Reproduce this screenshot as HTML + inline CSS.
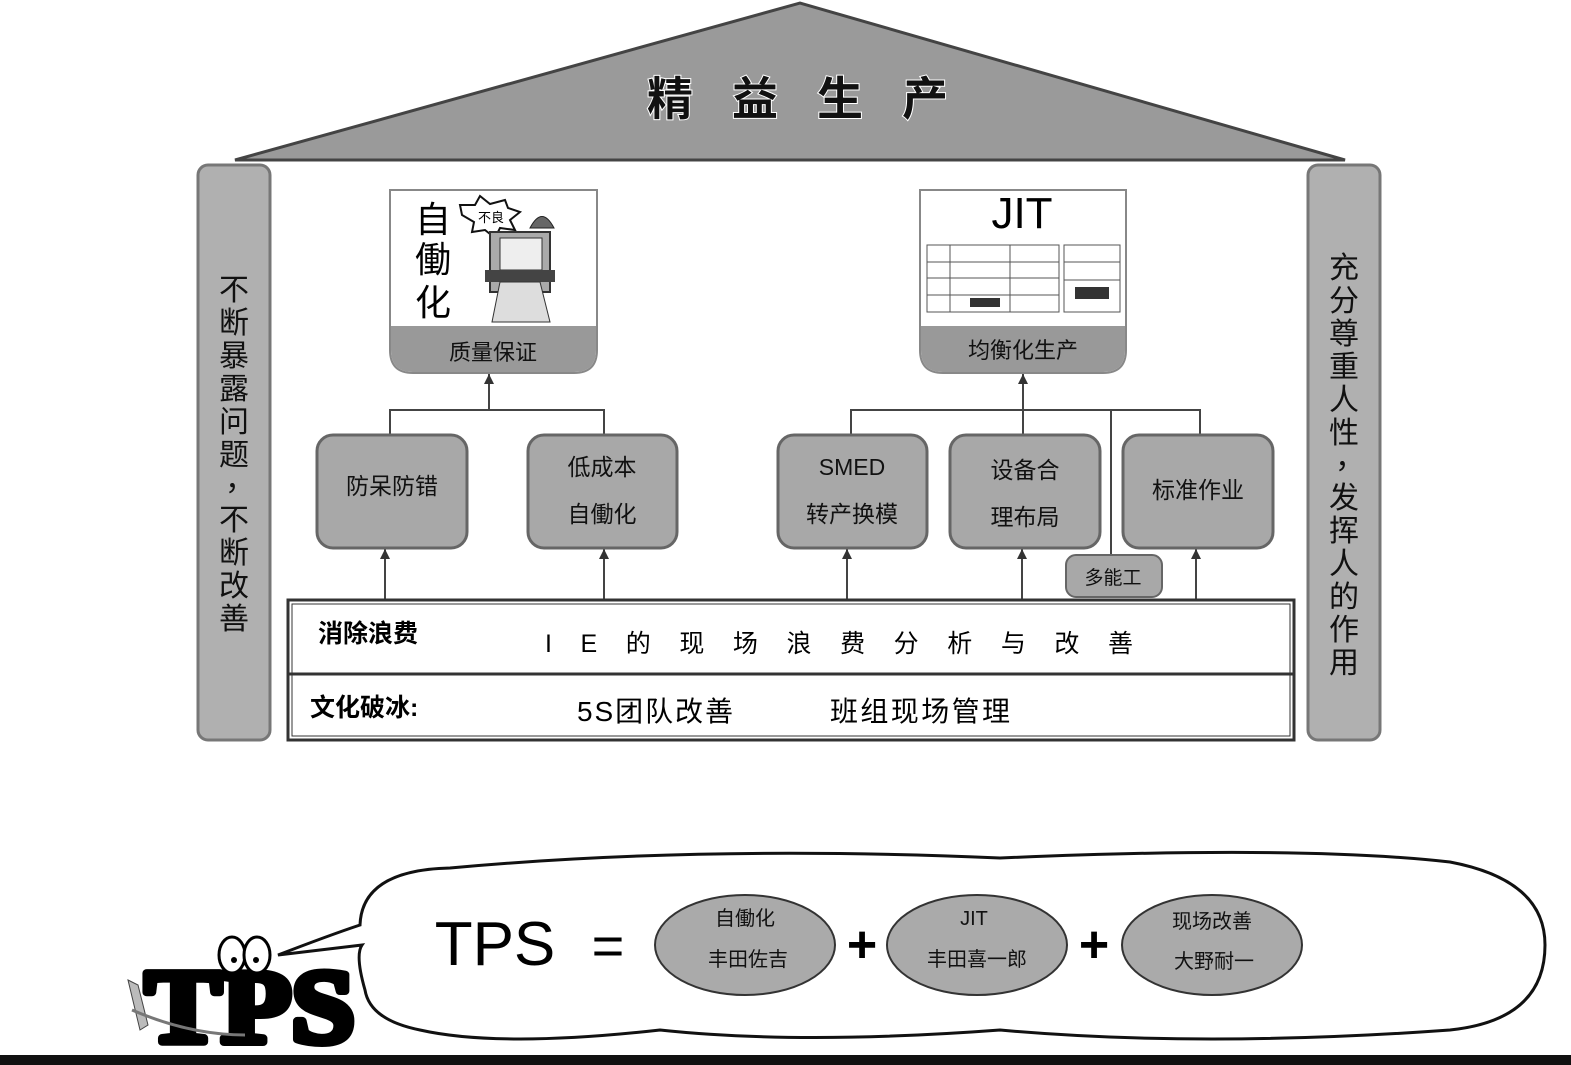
<!DOCTYPE html>
<html><head><meta charset="utf-8"><style>
html,body{margin:0;padding:0;background:#fff;}
svg{display:block;font-family:"Liberation Sans","Noto Sans CJK SC",sans-serif;}
</style></head><body>
<svg width="1571" height="1065" viewBox="0 0 1571 1065" xmlns="http://www.w3.org/2000/svg">
<defs>
<marker id="ar" markerWidth="12" markerHeight="12" refX="10" refY="5" orient="auto" markerUnits="userSpaceOnUse">
<path d="M0,0 L10,5 L0,10 Z" fill="#333"/></marker>
</defs>
<!-- roof -->
<polygon points="235,160 800,3 1345,160" fill="#9a9a9a" stroke="#444" stroke-width="3"/>
<g font-size="46" font-weight="bold" text-anchor="middle" fill="#111" stroke="#fff" stroke-width="2" paint-order="stroke">
<text x="670" y="115">精</text><text x="755" y="115">益</text><text x="840" y="115">生</text><text x="925" y="115">产</text>
</g>
<!-- pillars -->
<rect x="198" y="165" width="72" height="575" rx="10" fill="#b0b0b0" stroke="#777" stroke-width="3"/>
<rect x="1308" y="165" width="72" height="575" rx="10" fill="#b0b0b0" stroke="#777" stroke-width="3"/>
<g font-size="30" fill="#111" text-anchor="middle">
<text x="234" y="300">不</text><text x="234" y="333">断</text><text x="234" y="366">暴</text><text x="234" y="399">露</text><text x="234" y="432">问</text><text x="234" y="465">题</text><text x="240" y="490">，</text><text x="234" y="530">不</text><text x="234" y="563">断</text><text x="234" y="596">改</text><text x="234" y="629">善</text>
<text x="1344" y="278">充</text><text x="1344" y="311">分</text><text x="1344" y="344">尊</text><text x="1344" y="377">重</text><text x="1344" y="410">人</text><text x="1344" y="443">性</text><text x="1350" y="468">，</text><text x="1344" y="508">发</text><text x="1344" y="541">挥</text><text x="1344" y="574">人</text><text x="1344" y="607">的</text><text x="1344" y="640">作</text><text x="1344" y="673">用</text>
</g>
<!-- picture boxes -->
<path d="M390,190 H597 V350 Q597,373 574,373 H413 Q390,373 390,350 Z" fill="#fff" stroke="#888" stroke-width="2"/>
<path d="M391,326 H596 V350 Q596,372 574,372 H413 Q391,372 391,350 Z" fill="#999"/>
<text x="493" y="360" font-size="22" text-anchor="middle" fill="#111">质量保证</text>
<text x="433" y="232" font-size="36" text-anchor="middle">自</text>
<text x="433" y="272" font-size="36" text-anchor="middle">働</text>
<text x="433" y="315" font-size="36" text-anchor="middle">化</text>
<polygon points="460,205 475,205 480,196 490,204 505,200 508,208 520,212 510,220 515,230 500,228 495,238 485,230 472,232 474,222 462,215" fill="#fff" stroke="#111" stroke-width="2"/>
<text x="491" y="222" font-size="13" text-anchor="middle">不良</text>
<rect x="490" y="232" width="60" height="60" fill="#aaa" stroke="#333" stroke-width="2"/>
<rect x="500" y="238" width="42" height="32" fill="#eee" stroke="#333"/>
<path d="M530,228 Q542,205 554,228 Z" fill="#666" stroke="#222"/>
<rect x="485" y="270" width="70" height="12" fill="#444"/>
<polygon points="500,282 540,282 550,322 492,322" fill="#ddd" stroke="#333"/>
<path d="M920,190 H1126 V350 Q1126,373 1103,373 H943 Q920,373 920,350 Z" fill="#fff" stroke="#888" stroke-width="2"/>
<path d="M921,326 H1125 V350 Q1125,372 1103,372 H943 Q921,372 921,350 Z" fill="#999"/>
<text x="1023" y="358" font-size="22" text-anchor="middle" fill="#111">均衡化生产</text>
<text x="1022" y="228" font-size="44" text-anchor="middle">JIT</text>
<g stroke="#555" fill="none" stroke-width="1">
<rect x="927" y="245" width="132" height="67"/><rect x="1064" y="245" width="56" height="67"/>
<line x1="927" y1="262" x2="1059" y2="262"/><line x1="927" y1="278" x2="1059" y2="278"/><line x1="927" y1="295" x2="1059" y2="295"/>
<line x1="950" y1="245" x2="950" y2="312"/><line x1="1010" y1="245" x2="1010" y2="312"/>
<line x1="1064" y1="262" x2="1120" y2="262"/><line x1="1064" y1="280" x2="1120" y2="280"/>
</g>
<rect x="970" y="298" width="30" height="9" fill="#333"/><rect x="1075" y="287" width="34" height="12" fill="#333"/>
<!-- connectors -->
<g stroke="#444" stroke-width="2" fill="none">
<polyline points="390,435 390,410 604,410 604,435"/>
<line x1="489" y1="410" x2="489" y2="374" marker-end="url(#ar)"/>
<polyline points="851,435 851,410 1200,410 1200,435"/>
<line x1="1111" y1="410" x2="1111" y2="555"/>
<line x1="1023" y1="435" x2="1023" y2="374" marker-end="url(#ar)"/>
<line x1="385" y1="600" x2="385" y2="549" marker-end="url(#ar)"/>
<line x1="604" y1="600" x2="604" y2="549" marker-end="url(#ar)"/>
<line x1="847" y1="600" x2="847" y2="549" marker-end="url(#ar)"/>
<line x1="1022" y1="600" x2="1022" y2="549" marker-end="url(#ar)"/>
<line x1="1196" y1="600" x2="1196" y2="549" marker-end="url(#ar)"/>
</g>
<!-- middle boxes -->
<g fill="#a8a8a8" stroke="#666" stroke-width="3">
<rect x="317" y="435" width="150" height="113" rx="16"/>
<rect x="528" y="435" width="149" height="113" rx="16"/>
<rect x="778" y="435" width="149" height="113" rx="16"/>
<rect x="950" y="435" width="150" height="113" rx="16"/>
<rect x="1123" y="435" width="150" height="113" rx="16"/>
<rect x="1066" y="555" width="96" height="42" rx="10" stroke-width="2"/>
</g>
<g font-size="23" fill="#111" text-anchor="middle">
<text x="392" y="494">防呆防错</text>
<text x="602" y="475">低成本</text><text x="602" y="522">自働化</text>
<text x="852" y="475">SMED</text><text x="852" y="522">转产换模</text>
<text x="1025" y="478">设备合</text><text x="1025" y="525">理布局</text>
<text x="1198" y="498">标准作业</text>
<text x="1113" y="584" font-size="19">多能工</text>
</g>
<!-- foundation -->
<rect x="288" y="600" width="1006" height="140" fill="#fff" stroke="#333" stroke-width="3"/>
<rect x="292" y="604" width="998" height="132" fill="none" stroke="#333" stroke-width="1"/>
<line x1="288" y1="674" x2="1294" y2="674" stroke="#333" stroke-width="3"/>
<text x="318" y="642" font-size="25" font-weight="bold">消除浪费</text>
<text x="545" y="652" font-size="25" textLength="588" lengthAdjust="spacing">IE的现场浪费分析与改善</text>
<text x="310" y="716" font-size="25" font-weight="bold">文化破冰:</text>
<text x="577" y="721" font-size="28" textLength="156" lengthAdjust="spacing">5S团队改善</text>
<text x="830" y="721" font-size="28" textLength="180" lengthAdjust="spacing">班组现场管理</text>
<!-- bubble -->
<path d="M278,955 Q330,935 360,925 Q362,870 450,868 Q700,845 1000,858 Q1300,845 1450,862 Q1545,880 1545,945 Q1545,1020 1450,1030 Q1200,1048 1000,1030 Q800,1045 660,1030 Q500,1048 420,1030 Q370,1020 365,990 Q355,955 362,945 Q320,950 278,955 Z" fill="#fff" stroke="#111" stroke-width="3"/>
<text x="495" y="965" font-size="62" text-anchor="middle">TPS</text>
<text x="608" y="965" font-size="56" text-anchor="middle">=</text>
<g fill="#aaa" stroke="#333" stroke-width="2">
<ellipse cx="745" cy="945" rx="90" ry="50"/>
<ellipse cx="977" cy="945" rx="90" ry="50"/>
<ellipse cx="1212" cy="945" rx="90" ry="50"/>
</g>
<text x="862" y="962" font-size="52" text-anchor="middle" font-weight="bold">+</text>
<text x="1094" y="962" font-size="52" text-anchor="middle" font-weight="bold">+</text>
<g font-size="20" text-anchor="middle" fill="#111">
<text x="745" y="925">自働化</text><text x="748" y="966">丰田佐吉</text>
<text x="974" y="925">JIT</text><text x="977" y="966">丰田喜一郎</text>
<text x="1212" y="928">现场改善</text><text x="1214" y="968">大野耐一</text>
</g>
<!-- TPS logo -->
<text x="250" y="1042" font-size="105" font-weight="bold" font-family="Liberation Serif,serif" text-anchor="middle" fill="#000" stroke="#000" stroke-width="8" stroke-linejoin="round" textLength="210" lengthAdjust="spacingAndGlyphs">TPS</text>
<ellipse cx="232" cy="955" rx="13" ry="18" fill="#fff" stroke="#000" stroke-width="3"/>
<ellipse cx="257" cy="955" rx="13" ry="18" fill="#fff" stroke="#000" stroke-width="3"/>
<circle cx="234" cy="960" r="3"/><circle cx="256" cy="960" r="3"/>
<polygon points="128,980 138,985 148,1025 140,1030" fill="#bbb" stroke="#444"/>
<path d="M132,1010 Q190,1035 245,1035" fill="none" stroke="#777" stroke-width="3"/>
<rect x="0" y="1055" width="1571" height="10" fill="#111"/>
</svg>
</body></html>
